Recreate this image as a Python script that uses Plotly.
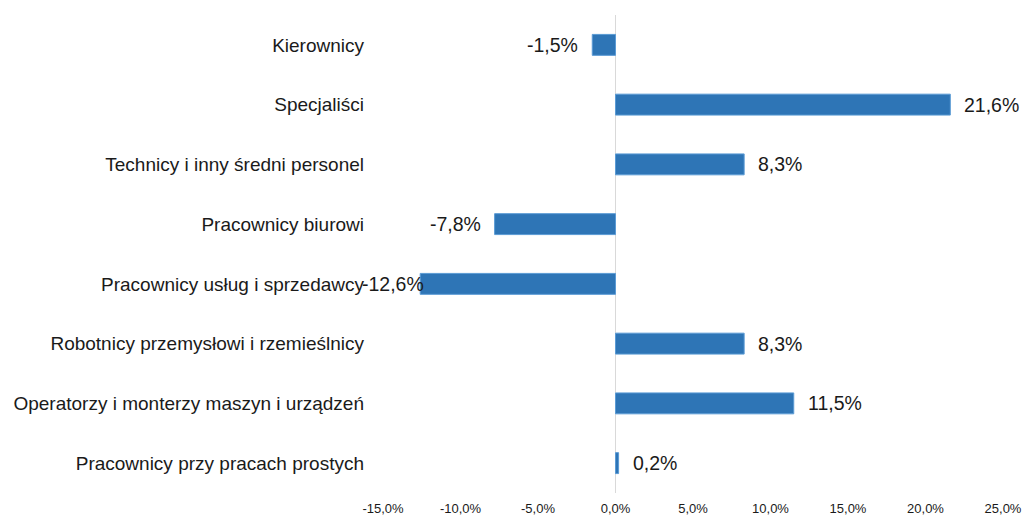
import plotly.graph_objects as go

categories = [
    "Kierownicy",
    "Specjaliści",
    "Technicy i inny średni personel",
    "Pracownicy biurowi",
    "Pracownicy usług i sprzedawcy",
    "Robotnicy przemysłowi i rzemieślnicy",
    "Operatorzy i monterzy maszyn i urządzeń",
    "Pracownicy przy pracach prostych",
]
values = [-1.5, 21.6, 8.3, -7.8, -12.6, 8.3, 11.5, 0.2]
value_labels = ["-1,5%", "21,6%", "8,3%", "-7,8%", "-12,6%", "8,3%", "11,5%", "0,2%"]
tick_values = [-15, -10, -5, 0, 5, 10, 15, 20, 25]
tick_labels = ["-15,0%", "-10,0%", "-5,0%", "0,0%", "5,0%", "10,0%", "15,0%", "20,0%", "25,0%"]

FONT = "Liberation Sans, Arial, sans-serif"
TXT = "#1a1a1a"

fig = go.Figure(
    go.Bar(
        y=categories,
        x=values,
        orientation="h",
        width=0.35,
        marker=dict(color="#2E75B6", line=dict(color="#5B9BD5", width=1)),
        hoverinfo="skip",
    )
)

# data labels placed just beyond bar ends (label crowded near axis edge gets nudged inward)
for cat, v, lab in zip(categories, values, value_labels):
    if v >= 0:
        anchor, shift = "left", 12
    else:
        anchor, shift = "right", -12
        if v <= -12:
            shift = 6
    fig.add_annotation(
        x=v, y=cat, xref="x", yref="y", text=lab, showarrow=False,
        xanchor=anchor, yanchor="middle", xshift=shift,
        font=dict(family=FONT, size=19.5, color=TXT),
    )

fig.update_layout(
    width=1027,
    height=518,
    margin=dict(l=383, r=24, t=15, b=25, autoexpand=False),
    paper_bgcolor="white",
    plot_bgcolor="white",
    showlegend=False,
    font=dict(family=FONT, color=TXT),
    xaxis=dict(
        range=[-15, 25],
        tickvals=tick_values,
        ticktext=tick_labels,
        showgrid=False,
        zeroline=True,
        zerolinecolor="#d9d9d9",
        zerolinewidth=1,
        showline=False,
        ticks="",
        automargin=False,
        ticklabelstandoff=6,
        tickfont=dict(family=FONT, size=13, color=TXT),
        fixedrange=True,
    ),
    yaxis=dict(
        autorange="reversed",
        showgrid=False,
        showline=False,
        ticks="",
        automargin=False,
        ticklabelstandoff=18,
        tickfont=dict(family=FONT, size=19, color=TXT),
        fixedrange=True,
    ),
)

fig.write_html(
    "out.html",
    config={"displayModeBar": False},
    post_script="document.body.style.margin='0';document.body.style.overflow='hidden';",
)
